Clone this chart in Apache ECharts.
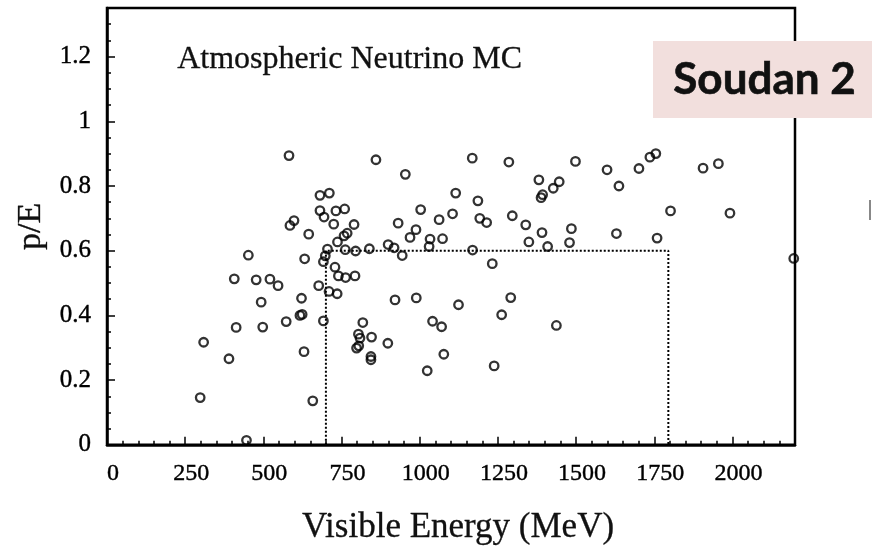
<!DOCTYPE html>
<html>
<head>
<meta charset="utf-8">
<script src="https://cdn.jsdelivr.net/npm/echarts@6/dist/echarts.min.js"></script>
<style>
html,body{margin:0;padding:0;background:#fff;}
#chart{width:872px;height:550px;}
</style>
</head>
<body>
<div id="chart"></div>
<script>
// Visible energy (MeV) of each simulated event
var energy = [
  582, 681, 711, 681, 732, 694, 725, 598, 585, 645,
  737, 705, 698, 692, 452, 632, 729, 740, 763, 793,
  407, 477, 521, 547, 677, 710, 736, 493, 622, 413,
  498, 573, 617, 624, 692, 309, 390, 630, 298, 658,
  446, 921, 989, 1124, 1262, 818, 1041, 1070, 804, 809,
  846, 898, 798, 805, 844, 844, 1077, 1024, 1238, 1291,
  1437, 860, 1168, 954, 1115, 1186, 760, 1003, 1105, 1062,
  1192, 1214, 931, 790, 988, 969, 768, 758, 1033, 1073,
  1030, 899, 918, 762, 795, 839, 944, 1169, 1232, 1285,
  1498, 1599, 1701, 1736, 1755, 1381, 1446, 1427, 1393, 1388,
  1637, 1296, 1339, 1391, 1485, 1629, 1349, 1409, 1479, 1759,
  1906, 1955, 1802, 1992, 2196
];
// p/E of each event
var pOverE = [
  0.894, 0.771, 0.778, 0.724, 0.723, 0.704, 0.682, 0.693, 0.678, 0.651,
  0.627, 0.605, 0.584, 0.566, 0.586, 0.575, 0.549, 0.522, 0.517, 0.522,
  0.513, 0.510, 0.512, 0.492, 0.492, 0.474, 0.467, 0.441, 0.453, 0.363,
  0.364, 0.381, 0.400, 0.403, 0.383, 0.317, 0.266, 0.288, 0.146, 0.136,
  0.014, 0.448, 0.454, 0.433, 0.402, 0.378, 0.382, 0.365, 0.342, 0.330,
  0.333, 0.314, 0.299, 0.306, 0.273, 0.263, 0.280, 0.229, 0.244, 0.455,
  0.369, 0.881, 0.886, 0.836, 0.778, 0.754, 0.729, 0.727, 0.714, 0.696,
  0.700, 0.687, 0.685, 0.681, 0.665, 0.641, 0.654, 0.646, 0.636, 0.637,
  0.613, 0.619, 0.609, 0.603, 0.599, 0.606, 0.585, 0.602, 0.560, 0.874,
  0.876, 0.850, 0.854, 0.889, 0.900, 0.819, 0.813, 0.793, 0.773, 0.764,
  0.800, 0.708, 0.680, 0.656, 0.668, 0.653, 0.627, 0.613, 0.625, 0.639,
  0.855, 0.869, 0.723, 0.716, 0.576
];
// Dotted selection box corners
var boxEnergy = [700, 700, 1795, 1795];
var boxPE = [0, 0.6, 0.6, 0];

var xMajorTicks = [0, 250, 500, 750, 1000, 1250, 1500, 1750, 2000];
var yMajorTicks = [0, 0.2, 0.4, 0.6, 0.8, 1, 1.2];

var points = energy.map(function (e, i) { return [e, pOverE[i]]; });
var box = boxEnergy.map(function (e, i) { return [e, boxPE[i]]; });

var serif = '"Liberation Serif", "Times New Roman", serif';

function isMajorX(v) { return xMajorTicks.indexOf(Math.round(v)) >= 0; }
function isMajorY(v) {
  for (var i = 0; i < yMajorTicks.length; i++) if (Math.abs(yMajorTicks[i] - v) < 1e-6) return true;
  return false;
}

var chart = echarts.init(document.getElementById('chart'), null, {renderer: 'canvas'});
chart.setOption({
  animation: false,
  backgroundColor: '#ffffff',
  grid: {
    left: 107, right: 77, top: 8, bottom: 105,
    show: true, borderColor: '#000', borderWidth: 2.5, backgroundColor: 'transparent'
  },
  xAxis: [{
    type: 'value', min: 0, max: 2200, interval: 250, position: 'bottom',
    name: 'Visible Energy (MeV)', nameLocation: 'middle', nameGap: 65,
    nameTextStyle: {fontFamily: serif, fontSize: 35, color: '#111', padding: [0, 0, 0, 14],
      textBorderColor: '#111', textBorderWidth: 0.3},
    axisLine: {show: true, onZero: false, lineStyle: {color: '#000', width: 2.5}},
    axisTick: {show: true, inside: true, length: 8, lineStyle: {color: '#000', width: 1.5},
      interval: function (i, v) { return isMajorX(v); }},
    splitLine: {show: false},
    axisLabel: {fontFamily: serif, fontSize: 24, color: '#000', margin: 17, padding: [0, 0, 0, 12],
      textBorderColor: '#000', textBorderWidth: 0.4, showMaxLabel: false,
      formatter: function (v) { return isMajorX(v) ? String(v) : ''; }}
  }, {
    type: 'value', min: 0, max: 2200, interval: 50, position: 'bottom',
    axisLine: {show: false},
    axisTick: {show: true, inside: true, length: 4, lineStyle: {color: '#000', width: 1.5}},
    axisLabel: {show: false},
    splitLine: {show: false}
  }],
  yAxis: [{
    type: 'value', min: 0, max: 1.35, interval: 0.2, position: 'left',
    name: 'p/E', nameLocation: 'middle', nameGap: 58, nameRotate: 90,
    nameTextStyle: {fontFamily: serif, fontSize: 34, color: '#111',
      textBorderColor: '#111', textBorderWidth: 0.3},
    axisLine: {show: true, onZero: false, lineStyle: {color: '#000', width: 2.5}},
    axisTick: {show: true, inside: true, length: 8, lineStyle: {color: '#000', width: 1.5}},
    splitLine: {show: false},
    axisLabel: {fontFamily: serif, fontSize: 25, color: '#000', margin: 16,
      textBorderColor: '#000', textBorderWidth: 0.4, showMaxLabel: false,
      formatter: function (v) { return isMajorY(v) ? String(+v.toFixed(1)) : ''; }}
  }, {
    type: 'value', min: 0, max: 1.35, interval: 0.05, position: 'left',
    axisLine: {show: false},
    axisTick: {show: true, inside: true, length: 4, lineStyle: {color: '#000', width: 1.5}},
    axisLabel: {show: false},
    splitLine: {show: false}
  }],
  series: [{
    type: 'line', xAxisIndex: 0, yAxisIndex: 0, data: box, symbol: 'none',
    lineStyle: {color: '#000', width: 2, type: [2, 2]}, silent: true, z: 2
  }, {
    type: 'scatter', xAxisIndex: 0, yAxisIndex: 0, data: points,
    symbol: 'circle', symbolSize: 8.5, clip: false,
    itemStyle: {color: 'rgba(0,0,0,0)', borderColor: '#000', borderWidth: 2.3}, z: 3
  }],
  graphic: [{
    type: 'text', left: 177, top: 43, z: 10,
    style: {text: 'Atmospheric Neutrino MC', fontFamily: serif, fontSize: 32, fill: '#111',
      stroke: '#111', lineWidth: 0.3}
  }, {
    type: 'rect', left: 653, top: 41, z: 20,
    shape: {width: 219, height: 77}, style: {fill: '#f2dfdd'}
  }, {
    type: 'text', left: 673, top: 58, z: 21,
    style: {text: 'Soudan 2', fontFamily: 'Lato, "Open Sans", sans-serif', fontWeight: 'bold', fontSize: 44, fill: '#111',
      stroke: '#111', lineWidth: 0.6}
  }, {
    type: 'rect', left: 869, top: 200, z: 20,
    shape: {width: 2, height: 20}, style: {fill: '#888'}
  }]
});
</script>
</body>
</html>
